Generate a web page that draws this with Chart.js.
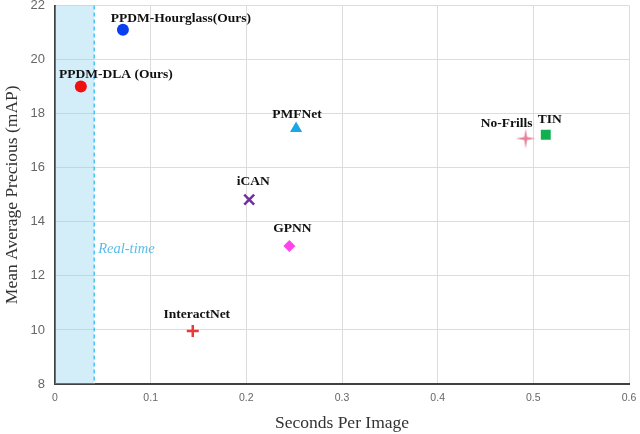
<!DOCTYPE html>
<html>
<head>
<meta charset="utf-8">
<script src="https://cdn.jsdelivr.net/npm/chart.js@4"></script>
<style>
  html, body { margin: 0; padding: 0; background: #fff; overflow: hidden; }
  #wrap { width: 640px; height: 434px; overflow: hidden; }
  #chart { display: block; margin-top: -4px; }
</style>
</head>
<body>
<div id="wrap"><canvas id="chart" width="640" height="438"></canvas></div>
<script>
// methods and their (seconds per image, mAP)
const methods = ["PPDM-Hourglass(Ours)", "PPDM-DLA (Ours)", "PMFNet", "No-Frills", "TIN", "iCAN", "GPNN", "InteractNet"];
const seconds = [0.071, 0.027, 0.252, 0.492, 0.513, 0.203, 0.245, 0.144];
const mAP = [21.1, 19.0, 17.45, 17.08, 17.22, 14.82, 13.1, 9.96];
const colors = ["#0a3ff0", "#f01010", "#1aa7e6", "#e8809a", "#10b050", "#7030a0", "#ff44ee", "#e83a3a"];
const shapes = ["circle", "circle", "triangle", "sparkle", "rect", "crossRot", "rectRot", "cross"];
// label offsets in px from the point (text centre, baseline)
const labelOffsets = [[58, -8], [35, -9], [1, -11], [-19, -12], [4, -12], [4, -15], [3, -14], [4, -13]];
const realTimeLimit = 0.041;
const xTicks = [0, 0.1, 0.2, 0.3, 0.4, 0.5, 0.6];
const yTicks = [8, 10, 12, 14, 16, 18, 20, 22];

// four point star drawn once
function makeSparkle(color) {
  const c = document.createElement("canvas");
  c.width = 22; c.height = 22;
  const g = c.getContext("2d");
  g.fillStyle = color;
  g.beginPath();
  const cx = 11, cy = 11, R = 10, r = 2;
  for (let i = 0; i < 8; i++) {
    const a = i * Math.PI / 4 - Math.PI / 2;
    const rad = i % 2 === 0 ? R : r;
    const px = cx + rad * Math.cos(a), py = cy + rad * Math.sin(a);
    if (i === 0) g.moveTo(px, py); else g.lineTo(px, py);
  }
  g.closePath();
  g.fill();
  return c;
}

const datasets = methods.map((m, i) => {
  const style = shapes[i] === "sparkle" ? makeSparkle(colors[i]) : shapes[i];
  let radius = 6;
  if (shapes[i] === "rect") radius = 7;
  if (shapes[i] === "triangle") radius = 7;
  if (shapes[i] === "crossRot") radius = 7;
  return {
    label: m,
    data: [{ x: seconds[i], y: mAP[i] }],
    pointStyle: style,
    pointRadius: radius,
    backgroundColor: colors[i],
    borderColor: colors[i],
    borderWidth: (shapes[i] === "cross" || shapes[i] === "crossRot") ? 2.5 : 0,
  };
});

const realTimePlugin = {
  id: "realTime",
  beforeDatasetsDraw(chart) {
    const { ctx, chartArea, scales } = chart;
    const x0 = scales.x.getPixelForValue(0);
    const x1 = scales.x.getPixelForValue(realTimeLimit);
    ctx.save();
    ctx.fillStyle = "rgba(140, 210, 240, 0.38)";
    ctx.fillRect(x0, chartArea.top, x1 - x0, chartArea.bottom - chartArea.top);
    ctx.strokeStyle = "#4cc3f0";
    ctx.lineWidth = 1.5;
    ctx.setLineDash([4, 3]);
    ctx.beginPath();
    ctx.moveTo(x1, chartArea.top);
    ctx.lineTo(x1, chartArea.bottom);
    ctx.stroke();
    ctx.setLineDash([]);
    ctx.fillStyle = "#5bbce8";
    ctx.font = "italic 14.5px 'Liberation Serif', serif";
    ctx.textAlign = "left";
    ctx.textBaseline = "alphabetic";
    ctx.fillText("Real-time", x1 + 4, scales.y.getPixelForValue(12.85));
    ctx.restore();
  }
};

const labelPlugin = {
  id: "pointLabels",
  afterDatasetsDraw(chart) {
    const { ctx, scales } = chart;
    ctx.save();
    ctx.fillStyle = "#111";
    ctx.font = "bold 13.5px 'Liberation Serif', serif";
    ctx.textAlign = "center";
    ctx.textBaseline = "alphabetic";
    methods.forEach((m, i) => {
      const px = scales.x.getPixelForValue(seconds[i]) + labelOffsets[i][0];
      const py = scales.y.getPixelForValue(mAP[i]) + labelOffsets[i][1];
      ctx.fillText(m, px, py);
    });
    ctx.restore();
  }
};

new Chart(document.getElementById("chart"), {
  type: "scatter",
  data: { datasets },
  plugins: [realTimePlugin, labelPlugin],
  options: {
    responsive: false,
    animation: false,
    layout: { padding: { top: 0, right: 0, left: 0, bottom: 0 } },
    plugins: {
      legend: { display: false },
      tooltip: { enabled: false },
    },
    scales: {
      x: {
        type: "linear",
        min: 0,
        max: 0.6,
        afterBuildTicks: (axis) => { axis.ticks = xTicks.map(v => ({ value: v })); },
        afterFit: (axis) => { axis.height = 50; axis.paddingRight = 11; axis.paddingLeft = 0; },
        grid: { color: "#dcdcdc", lineWidth: 1, drawTicks: false },
        border: { color: "#404040", width: 2 },
        ticks: {
          color: "#666",
          font: { family: "'Liberation Sans', sans-serif", size: 10.5 },
          padding: 8,
          maxRotation: 0,
          callback: (v) => String(v),
        },
        title: {
          display: true,
          text: "Seconds Per Image",
          color: "#333",
          font: { family: "'Liberation Serif', serif", size: 17.5 },
          padding: { top: 6, bottom: 0 },
        },
      },
      y: {
        type: "linear",
        min: 8,
        max: 22,
        afterBuildTicks: (axis) => { axis.ticks = yTicks.map(v => ({ value: v })); },
        afterFit: (axis) => { axis.width = 55; axis.paddingTop = 5; axis.paddingBottom = 0; },
        grid: { color: "#dcdcdc", lineWidth: 1, drawTicks: false },
        border: { color: "#404040", width: 2 },
        ticks: {
          color: "#666",
          font: { family: "'Liberation Sans', sans-serif", size: 13 },
          padding: 10,
        },
        title: {
          display: true,
          text: "Mean Average Precious (mAP)",
          color: "#333",
          font: { family: "'Liberation Serif', serif", size: 17.5 },
          padding: { top: 2, bottom: 0 },
        },
      },
    },
  },
});
</script>
</body>
</html>
